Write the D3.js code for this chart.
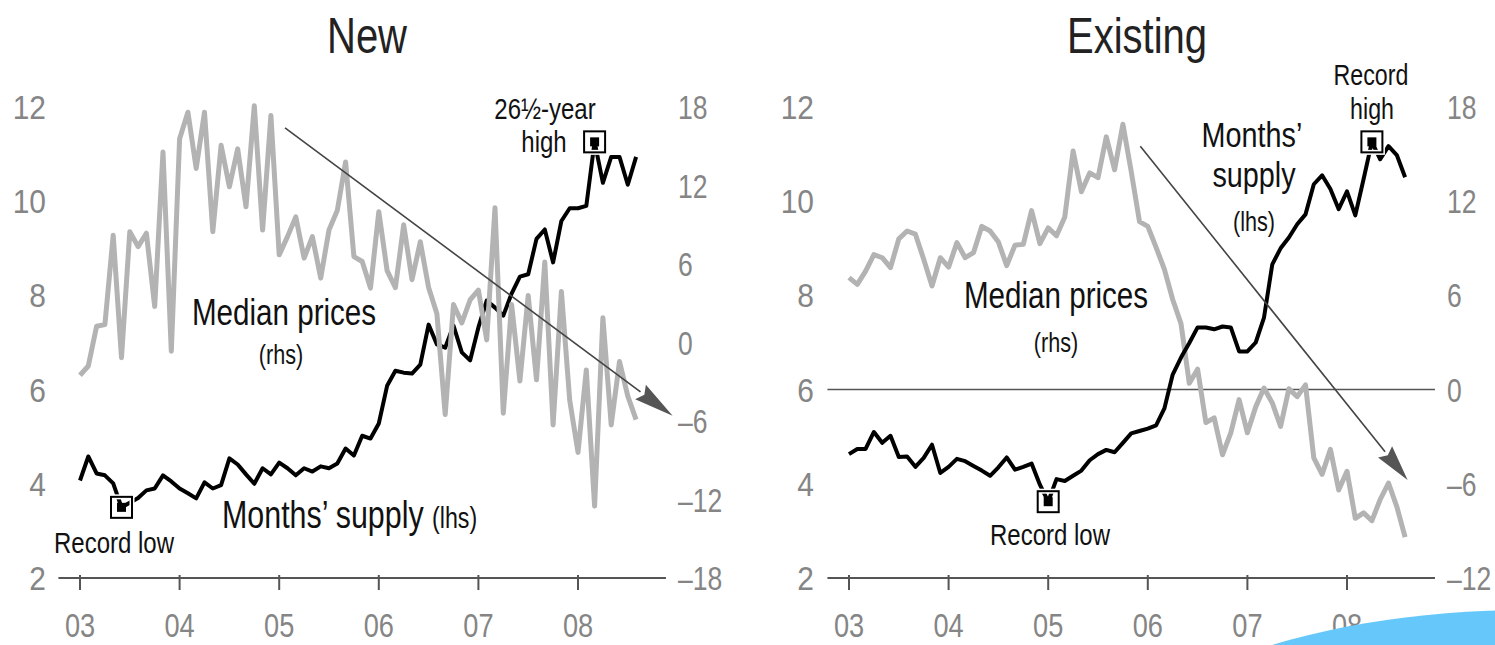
<!DOCTYPE html>
<html>
<head>
<meta charset="utf-8">
<script src="https://cdn.jsdelivr.net/npm/d3@7"></script>
<style>
  html, body { margin: 0; padding: 0; background: #fff; }
  svg { display: block; }
  text { font-family: "Liberation Sans", Arial, sans-serif; }
</style>
</head>
<body>
<svg id="chart" width="1495" height="645"></svg>
<script>
// Monthly series, Jan 2003 onwards
const yearLabels = ["03", "04", "05", "06", "07", "08"];

// New homes: months' supply (lhs) and median price change, % y/y (rhs)
const newSupply = [
  4.07, 4.58, 4.22, 4.18, 4.01, 3.50, 3.60, 3.70, 3.86, 3.90,
  4.18, 4.05, 3.90, 3.80, 3.69, 4.03, 3.90, 3.97, 4.54, 4.41,
  4.20, 4.00, 4.33, 4.20, 4.45, 4.33, 4.18, 4.33, 4.26, 4.37,
  4.33, 4.43, 4.75, 4.60, 5.02, 4.96, 5.28, 6.08, 6.40, 6.36,
  6.34, 6.53, 7.38, 6.96, 6.89, 7.36, 6.79, 6.62, 7.32, 7.89,
  7.74, 7.57, 8.04, 8.40, 8.45, 9.20, 9.40, 8.70, 9.58, 9.85,
  9.85, 9.90, 11.26, 10.39, 10.94, 10.94, 10.35, 10.94
];
const newPrice = [
  -2.5, -1.8, 1.24, 1.37, 8.2, -1.16, 8.47, 7.33, 8.35, 2.76,
  14.56, -0.66, 15.58, 17.6, 13.3, 17.6, 8.47, 15.07, 11.9, 14.8,
  10.37, 18.1, 8.6, 17.35, 6.7, 8.09, 9.6, 6.45, 8.09, 4.92,
  8.6, 10.1, 13.8, 6.57, 6.19, 4.16, 10.0, 5.5, 4.2, 9.0,
  4.8, 7.7, 4.2, 2.2, -5.5, 2.9, 1.5, 3.25, 4.0, 0.2,
  10.3, -5.4, 2.9, -2.95, 3.6, -2.85, 6.15, -6.3, 3.9, -4.4,
  -8.4, -2.1, -12.5, 1.9, -6.3, -1.45, -4.1, -5.9
];

// Existing homes: months' supply (lhs) and median price change, % y/y (rhs)
const existingSupply = [
  4.63, 4.74, 4.74, 5.10, 4.87, 5.02, 4.57, 4.58, 4.36, 4.55,
  4.83, 4.23, 4.36, 4.53, 4.48, 4.38, 4.28, 4.17, 4.35, 4.56,
  4.30, 4.36, 4.43, 3.98, 3.62, 4.10, 4.06, 4.17, 4.28, 4.50,
  4.63, 4.72, 4.67, 4.87, 5.07, 5.12, 5.17, 5.24, 5.60, 6.32,
  6.68, 6.99, 7.32, 7.32, 7.28, 7.34, 7.32, 6.81, 6.81, 7.00,
  7.53, 8.66, 9.00, 9.23, 9.51, 9.72, 10.36, 10.55, 10.26, 9.83,
  10.21, 9.70, 10.47, 11.26, 10.89, 11.17, 10.98, 10.51
];
const existingPrice = [
  7.13, 6.7, 7.55, 8.6, 8.4, 7.77, 9.6, 10.1, 9.9, 8.3,
  6.6, 8.4, 7.8, 9.36, 8.4, 8.72, 10.4, 10.1, 9.4, 7.9,
  9.2, 9.25, 11.4, 9.3, 10.3, 9.8, 11.0, 15.2, 12.6, 13.8,
  13.5, 16.1, 14.0, 16.9, 13.9, 10.7, 10.4, 9.06, 7.66, 5.74,
  4.2, 0.4, 1.3, -2.1, -1.8, -4.15, -2.75, -0.64, -2.75, -1.1,
  0.1, -0.85, -2.35, 0.05, -0.45, 0.3, -4.35, -5.4, -3.8, -6.4,
  -5.2, -8.2, -7.85, -8.35, -7.0, -5.95, -7.45, -9.4
];

const lhsTicks = [2, 4, 6, 8, 10, 12];
const newRhsTicks = [-18, -12, -6, 0, 6, 12, 18];
const existingRhsTicks = [-12, -6, 0, 6, 12, 18];

const svg = d3.select("#chart");
const grey = "#b3b3b3", axisGrey = "#858585", ink = "#111";
const fmt = v => (v < 0 ? "\u2013" + Math.abs(v) : String(v));

// condensed text: placed with a translate, squeezed horizontally
function txt(g, x, y, size, fill, anchor, squeeze) {
  return g.append("text")
    .attr("transform", `translate(${x},${y}) scale(${squeeze || 0.8},1)`)
    .attr("text-anchor", anchor || "middle")
    .attr("font-size", size).attr("fill", fill);
}

function panel(cfg) {
  const g = svg.append("g");
  const x = d3.scaleLinear().domain([0, 60]).range(cfg.xRange);
  const yL = d3.scaleLinear().domain([2, 12]).range([578, 107]);
  const yR = d3.scaleLinear().domain(cfg.rhsDomain).range([578, 107]);
  const xEnds = [x(-2.6), x(70.6)];

  // title
  txt(g, cfg.titleX, 53, 50, "#222").text(cfg.title);

  // baseline and year ticks
  g.append("line").attr("x1", xEnds[0]).attr("x2", xEnds[1])
    .attr("y1", yL(2)).attr("y2", yL(2)).attr("stroke", "#555").attr("stroke-width", 2);
  yearLabels.forEach((lab, i) => {
    const xx = x(i * 12);
    g.append("line").attr("x1", xx).attr("x2", xx)
      .attr("y1", yL(2) - 3).attr("y2", yL(2) + 12)
      .attr("stroke", "#555").attr("stroke-width", 2);
    txt(g, xx, 637, 34, axisGrey).text(lab);
  });

  // zero line for rhs
  if (cfg.zeroLine) {
    g.append("line").attr("x1", xEnds[0]).attr("x2", xEnds[1])
      .attr("y1", yR(0)).attr("y2", yR(0)).attr("stroke", "#555").attr("stroke-width", 1.5);
  }

  // left/right tick labels
  lhsTicks.forEach(t => {
    txt(g, cfg.lhsLabelX, yL(t) + 12, 34, axisGrey, "end", 0.88).text(fmt(t));
  });
  cfg.rhsTicks.forEach(t => {
    txt(g, cfg.rhsLabelX, yR(t) + 12, 34, axisGrey, "start", 0.78).text(fmt(t));
  });

  const lineL = d3.line().x((d, i) => x(i)).y(d => yL(d));
  const lineR = d3.line().x((d, i) => x(i)).y(d => yR(d));

  const drawGrey = () => g.append("path").datum(cfg.price).attr("d", lineR)
    .attr("fill", "none").attr("stroke", grey).attr("stroke-width", 5)
    .attr("stroke-linejoin", "round");
  const drawBlack = () => g.append("path").datum(cfg.supply).attr("d", lineL)
    .attr("fill", "none").attr("stroke", "#000").attr("stroke-width", 4)
    .attr("stroke-linejoin", "round");
  if (cfg.greyOnTop) { drawBlack(); drawGrey(); } else { drawGrey(); drawBlack(); }

  // record markers
  cfg.markers.forEach(i => {
    const cx = x(i), cy = yL(cfg.supply[i]);
    g.append("rect").attr("x", cx - 10.5).attr("y", cy - 10.5).attr("width", 21).attr("height", 21)
      .attr("fill", "none").attr("stroke", "#fff").attr("stroke-width", 5);
    g.append("rect").attr("x", cx - 10.5).attr("y", cy - 10.5).attr("width", 21).attr("height", 21)
      .attr("fill", "none").attr("stroke", "#000").attr("stroke-width", 2);
    g.append("rect").attr("x", cx - 4.5).attr("y", cy - 4.5).attr("width", 9).attr("height", 9)
      .attr("fill", "#000");
  });

  // trend arrow on the price series
  const a = cfg.arrow;
  const x1 = x(a[0]), y1 = yR(a[1]), x2 = x(a[2]), y2 = yR(a[3]);
  const ang = Math.atan2(y2 - y1, x2 - x1);
  const hl = cfg.headLen, hw = 9;
  const bx = x2 - hl * Math.cos(ang), by = y2 - hl * Math.sin(ang);
  g.append("line").attr("x1", x1).attr("y1", y1).attr("x2", bx).attr("y2", by)
    .attr("stroke", "#444").attr("stroke-width", 1.6);
  const px = -Math.sin(ang) * hw, py = Math.cos(ang) * hw;
  g.append("path")
    .attr("d", `M${x2},${y2}L${bx + px},${by + py}L${bx + hl * 0.12 * Math.cos(ang)},${by + hl * 0.12 * Math.sin(ang)}L${bx - px},${by - py}Z`)
    .attr("fill", "#555");

  // annotations
  cfg.labels.forEach(l => {
    txt(g, l.x, l.y, l.size, ink, l.anchor)
      .selectAll("tspan").data(l.parts).join("tspan")
      .attr("font-size", p => p.size || null).text(p => p.t);
  });
}

panel({
  title: "New", titleX: 367,
  xRange: [80, 578],
  rhsDomain: [-18, 18], rhsTicks: newRhsTicks,
  lhsLabelX: 46, rhsLabelX: 678,
  supply: newSupply, price: newPrice,
  zeroLine: false, greyOnTop: true,
  markers: [5, 62],
  arrow: [24.7, 16.4, 71.4, -5.6], headLen: 40,
  labels: [
    { x: 284, y: 325, size: 37, parts: [{ t: "Median prices" }] },
    { x: 281, y: 364, size: 27, parts: [{ t: "(rhs)" }] },
    { x: 222, y: 528, size: 38, anchor: "start", parts: [{ t: "Months\u2019 supply " }, { t: "(lhs)", size: 29 }] },
    { x: 114, y: 553, size: 30, parts: [{ t: "Record low" }] },
    { x: 545, y: 119, size: 30, parts: [{ t: "26\u00bd-year" }] },
    { x: 544, y: 152, size: 30, parts: [{ t: "high" }] }
  ]
});

panel({
  title: "Existing", titleX: 1137,
  xRange: [849, 1347],
  rhsDomain: [-12, 18], rhsTicks: existingRhsTicks,
  lhsLabelX: 814, rhsLabelX: 1447,
  supply: existingSupply, price: existingPrice,
  zeroLine: true, greyOnTop: false,
  markers: [24, 63],
  arrow: [35.1, 15.5, 67.3, -5.75], headLen: 36,
  labels: [
    { x: 1056, y: 308, size: 37, parts: [{ t: "Median prices" }] },
    { x: 1056, y: 352, size: 27, parts: [{ t: "(rhs)" }] },
    { x: 1252, y: 147, size: 36, parts: [{ t: "Months\u2019" }] },
    { x: 1254, y: 187, size: 36, parts: [{ t: "supply" }] },
    { x: 1254, y: 231, size: 27, parts: [{ t: "(lhs)" }] },
    { x: 1050, y: 545, size: 30, parts: [{ t: "Record low" }] },
    { x: 1371, y: 85, size: 29, parts: [{ t: "Record" }] },
    { x: 1372, y: 119, size: 29, parts: [{ t: "high" }] }
  ]
});

// light-blue shape in the lower right corner
svg.append("ellipse").attr("cx", 1530).attr("cy", 785).attr("rx", 430).attr("ry", 175)
  .attr("fill", "#66c8fa");
</script>
</body>
</html>
